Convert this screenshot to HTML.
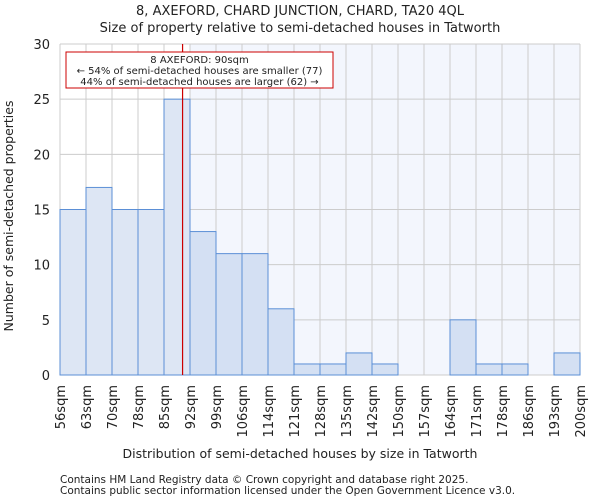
<!DOCTYPE html>
<html><head><meta charset="utf-8"><style>
body{margin:0;background:#fff;font-family:"DejaVu Sans","Liberation Sans",sans-serif;}
svg text{font-family:"DejaVu Sans","Liberation Sans",sans-serif;fill:#222;}
</style></head><body>
<svg width="600" height="500">
<text x="300" y="15" font-size="13" text-anchor="middle">8, AXEFORD, CHARD JUNCTION, CHARD, TA20 4QL</text>
<text x="300" y="32" font-size="13" text-anchor="middle">Size of property relative to semi-detached houses in Tatworth</text>
<g id="plot"></g>
<text x="300" y="458" font-size="12.5" text-anchor="middle">Distribution of semi-detached houses by size in Tatworth</text>
<text transform="translate(13,216) rotate(-90)" font-size="12.5" text-anchor="middle">Number of semi-detached properties</text>
<text x="60" y="483" font-size="10.5" fill="#444">Contains HM Land Registry data © Crown copyright and database right 2025.</text>
<text x="60" y="494" font-size="10.5" fill="#444">Contains public sector information licensed under the Open Government Licence v3.0.</text>
</svg>
<script>
const labels=["56sqm","63sqm","70sqm","78sqm","85sqm","92sqm","99sqm","106sqm","114sqm","121sqm","128sqm","135sqm","142sqm","150sqm","157sqm","164sqm","171sqm","178sqm","186sqm","193sqm","200sqm"];
const counts=[15,17,15,15,25,13,11,11,6,1,1,2,1,0,0,5,1,1,0,2];
const yTicks=[0,5,10,15,20,25,30];
const propertyBinPos=4+5/7;
const X0=60,X1=580,Y0=375,Y1=44,YMAX=30;
const bw=(X1-X0)/counts.length;
const x=i=>X0+i*bw;
const y=v=>Y0-(Y0-Y1)*v/YMAX;
const ns="http://www.w3.org/2000/svg";
const g=document.getElementById('plot');
function mk(t,a){const e=document.createElementNS(ns,t);for(const k in a)e.setAttribute(k,a[k]);g.appendChild(e);return e;}
const mx=x(propertyBinPos);
const bgx=x(Math.ceil(propertyBinPos));
let e=mk('rect',{x:bgx,y:Y1,width:X1-bgx,height:Y0-Y1,fill:'#f3f6fd'});


for(let i=0;i<=counts.length;i++){e=mk('line',{x1:x(i),x2:x(i),y1:Y1,y2:Y0,stroke:'#ccc','stroke-width':1});

}
yTicks.forEach(t=>{e=mk('line',{x1:X0,x2:X1,y1:y(t),y2:y(t),stroke:'#ccc','stroke-width':1});


e=mk('text',{x:X0-10,y:y(t)+5,'text-anchor':'end','font-size':13});e.textContent=t;

});
counts.forEach((c,i)=>{if(c<=0)return;e=mk('rect',{x:x(i),y:y(c),width:bw,height:Y0-y(c),fill:i<5?'#dde6f4':'#d4e0f3',stroke:'#5b8fd6','stroke-width':1});

});
labels.forEach((l,i)=>{e=mk('text',{transform:`translate(${x(i)+5},385) rotate(-90)`,'text-anchor':'end','font-size':13});e.textContent=l;

});
e=mk('line',{x1:mx,x2:mx,y1:Y1,y2:Y0,stroke:'#cc0000','stroke-width':1.2});


e=mk('rect',{x:66,y:52,width:267,height:36,fill:'#fff',stroke:'#cc0000','stroke-width':1});


[["8 AXEFORD: 90sqm",63],["← 54% of semi-detached houses are smaller (77)",74],["44% of semi-detached houses are larger (62) →",85]].forEach(([t,yy])=>{e=mk('text',{x:199.5,y:yy,'text-anchor':'middle','font-size':10});e.textContent=t;

});
</script>
</body></html>
